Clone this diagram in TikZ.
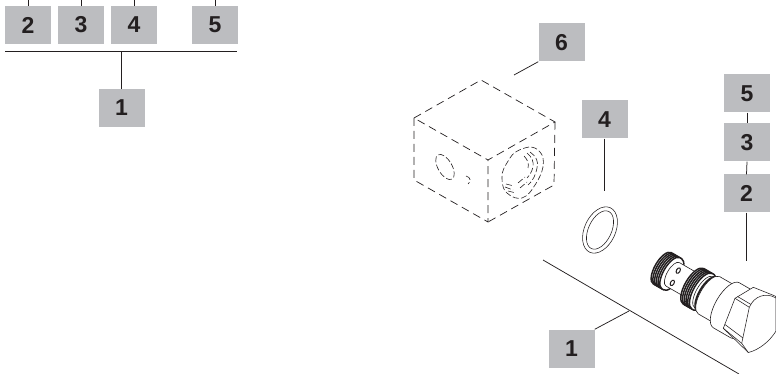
\documentclass[tikz,border=0pt]{standalone}
\usepackage{fontspec}
\setmainfont{Liberation Sans}
\definecolor{boxgray}{HTML}{BCBDC0}
\definecolor{ink}{HTML}{231F20}
\newcommand\vsec[4]{%
  \filldraw[fill=white,draw=ink,line width=#4] (#1,#3)
    arc[start angle=90,end angle=270,x radius=0.42*#3,y radius=#3]
    -- (#2,-#3)
    arc[start angle=-90,end angle=90,x radius=0.42*#3,y radius=#3]
    -- cycle;}
\tikzset{
  tag/.style={fill=boxgray,text=ink,inner sep=0pt,minimum width=46pt,minimum height=38pt,font=\fontsize{23}{23}\selectfont\bfseries},
  leader/.style={draw=ink,line width=0.75pt},
  hid/.style={draw=ink,line width=0.7pt,dash pattern=on 8pt off 5pt},
  hidfine/.style={draw=ink,line width=0.6pt,dash pattern=on 6pt off 2.5pt},
  part/.style={draw=ink,line width=0.55pt}
}
\begin{document}
\begin{tikzpicture}[x=1pt,y=-1pt]
\useasboundingbox (0,0) rectangle (776,374);
% left legend
\node[tag] (a2) at (28,25) {2};
\node[tag] (a3) at (81,25) {3};
\node[tag] (a4) at (134,25) {4};
\node[tag] (a5) at (215,25) {5};
\node[tag] (a1) at (121.5,108) {1};
\coordinate (t2) at (28,0);
\coordinate (t3) at (81,0);
\coordinate (t4) at (134,0);
\coordinate (t5) at (215,0);
\coordinate (barL) at (5,51);
\coordinate (barR) at (237,51);
\draw[leader] (t2) -- (a2.north);
\draw[leader] (t3) -- (a3.north);
\draw[leader] (t4) -- (a4.north);
\draw[leader] (t5) -- (a5.north);
\draw[leader] (barL) -- (barR);
\draw[leader] (a1.north) -- (a1.north |- barL);
% right tags
\node[tag] (b6) at (561.5,42.5) {6};
\node[tag] (b4) at (604.5,119.5) {4};
\node[tag] (b5) at (747,93.5) {5};
\node[tag] (b3) at (747,142.5) {3};
\node[tag] (b2) at (746.5,193.5) {2};
\node[tag] (b1) at (571.5,348.5) {1};
\coordinate (e6) at (514,75);
\coordinate (e4) at (604.5,191);
\coordinate (e2) at (746.5,261);
\coordinate (e1) at (629,311);
\coordinate (lineA) at (543,260);
\coordinate (lineB) at (739,374);
\draw[leader] (b6.south west) -- (e6);
\draw[leader] (b4.south) -- (e4);
\draw[leader] (b5.south) -- (b3.north);
\draw[leader] (b3.south) -- (b2.north);
\draw[leader] (b2.south) -- (e2);
\draw[leader] (b1.north east) -- (e1);
\draw[leader] (lineA) -- (lineB);
% dashed block
\draw[hid] (414,118) -- (481,80) -- (555,122) -- (488,160) -- cycle;
\draw[hid] (414,118) -- (414,180) -- (488,222) -- (488,160);
\draw[hid] (555,122) -- (554,185) -- (488,222);
\draw[hidfine,rotate around={30:(445,167)}] (445,167) ellipse [x radius=7,y radius=14];
\draw[hidfine] (466,176) .. controls (471,177) and (471,182) .. (468,184);
\draw[hidfine] (529,147) .. controls (518,149) and (512,154) .. (510,158)
  .. controls (505,166) and (501,172) .. (502,178)
  .. controls (502,186) and (504,191) .. (507,193)
  .. controls (512,198) and (518,199) .. (522,198)
  .. controls (528,196) and (531,191) .. (533,188)
  .. controls (538,181) and (542,173) .. (543,167)
  .. controls (544,160) and (543,155) .. (540,152)
  .. controls (537,148) and (533,147) .. (529,147);
\draw[hidfine] (530,152) .. controls (536,156) and (539,162) .. (537,168) .. controls (536,174) and (533,181) .. (528,185);
\draw[hidfine] (527,153) .. controls (532,157) and (534,162) .. (533,167) .. controls (532,171) and (530,175) .. (527,178);
\draw[hidfine] (524,156) .. controls (528,160) and (529,164) .. (528,168);
\draw[hidfine] (518,183) -- (525,177) (520,188) -- (527,182);
\draw[hidfine] (505,187) -- (513,190) (508,191) -- (516,193) (506,184) -- (514,186);
% o-ring
\draw[part,rotate around={-25:(600,230)}] (600,230) ellipse [x radius=15.5,y radius=24.5];
\draw[part,rotate around={-25:(600,230)}] (600,230) ellipse [x radius=11.5,y radius=20.5];
% cartridge valve
\begin{scope}[shift={(664,269.3)},x={(0.866pt,-0.5pt)},y={(0.5pt,0.866pt)}]
  \foreach \u in {-2,0,2,4,6,8}{\vsec{\u}{\u+2}{18}{1.5pt}}
  \vsec{10}{36}{13.5}{0.6pt}
  \draw[part,line width=1pt,fill=white] (13,6) ellipse [x radius=1.8,y radius=3];
  \draw[part,line width=1pt,fill=white] (14,-7.6) ellipse [x radius=1.8,y radius=3];
  \foreach \u in {34,36,38,40,42,44}{\vsec{\u}{\u+2}{20.5}{1.5pt}}
  \vsec{46}{50}{18}{0.6pt}
  \vsec{50}{52}{19.5}{2pt}
  \vsec{52}{70}{21.5}{0.6pt}
  \vsec{72}{92}{26}{0.6pt}
\end{scope}
% hexagon head
\filldraw[fill=white,part] (735,298.3) -- (753.3,287.3) -- (775,296) -- (776,297)
  -- (776,331) .. controls (770,341) and (759,350) .. (748.3,352.5)
  -- (723.3,328.3) -- cycle;
\draw[part] (737.5,296.5) -- (751,304.5);
\draw[part] (735,298.3) -- (749.3,307.3);
\draw[part] (749.3,307.3) .. controls (754,296) and (766,292) .. (776,298);
\draw[part] (749.3,307.3) -- (741.7,343.3) -- (748.3,352.5);
\draw[part] (723.3,328.3) -- (741.7,343.3);
\draw[part] (725,324.5) -- (743,338);
\end{tikzpicture}
\end{document}
